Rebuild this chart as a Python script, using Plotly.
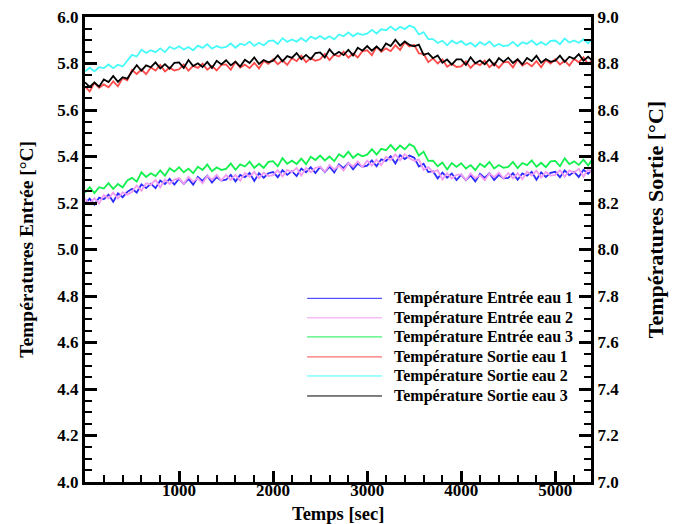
import plotly.graph_objects as go

TIME = list(range(0, 5401, 50))

ENTREE_1 = [
    5.197, 5.219, 5.193, 5.223, 5.216, 5.236, 5.205, 5.241, 5.225, 5.248,
    5.261, 5.245, 5.280, 5.264, 5.283, 5.264, 5.297, 5.282, 5.304, 5.279,
    5.305, 5.282, 5.304, 5.279, 5.312, 5.295, 5.317, 5.288, 5.311, 5.297,
    5.300, 5.321, 5.293, 5.321, 5.311, 5.329, 5.295, 5.328, 5.309, 5.328,
    5.333, 5.311, 5.341, 5.321, 5.337, 5.316, 5.348, 5.332, 5.354, 5.329,
    5.355, 5.333, 5.356, 5.331, 5.366, 5.350, 5.372, 5.345, 5.369, 5.356,
    5.361, 5.383, 5.358, 5.388, 5.381, 5.401, 5.370, 5.406, 5.389, 5.404,
    5.395, 5.357, 5.369, 5.333, 5.337, 5.306, 5.331, 5.309, 5.327, 5.299,
    5.322, 5.298, 5.319, 5.293, 5.325, 5.308, 5.328, 5.299, 5.321, 5.306,
    5.308, 5.328, 5.300, 5.327, 5.317, 5.334, 5.300, 5.332, 5.312, 5.330,
    5.334, 5.311, 5.340, 5.319, 5.334, 5.312, 5.343, 5.326, 5.347,
]
ENTREE_2 = [
    5.218, 5.197, 5.221, 5.198, 5.234, 5.220, 5.244, 5.219, 5.246, 5.236,
    5.248, 5.275, 5.253, 5.285, 5.279, 5.299, 5.267, 5.301, 5.282, 5.301,
    5.306, 5.283, 5.312, 5.292, 5.307, 5.285, 5.317, 5.300, 5.321, 5.296,
    5.321, 5.299, 5.321, 5.296, 5.329, 5.313, 5.334, 5.306, 5.330, 5.316,
    5.320, 5.341, 5.314, 5.342, 5.333, 5.351, 5.318, 5.351, 5.332, 5.351,
    5.356, 5.334, 5.364, 5.344, 5.361, 5.340, 5.372, 5.357, 5.379, 5.355,
    5.382, 5.361, 5.386, 5.363, 5.399, 5.385, 5.409, 5.384, 5.410, 5.392,
    5.382, 5.387, 5.342, 5.354, 5.333, 5.341, 5.301, 5.328, 5.305, 5.321,
    5.323, 5.299, 5.327, 5.306, 5.320, 5.298, 5.328, 5.311, 5.331, 5.305,
    5.329, 5.306, 5.328, 5.302, 5.335, 5.318, 5.339, 5.310, 5.333, 5.318,
    5.321, 5.341, 5.313, 5.340, 5.330, 5.347, 5.313, 5.345, 5.325,
]
ENTREE_3 = [
    5.244, 5.268, 5.243, 5.268, 5.262, 5.285, 5.261, 5.282, 5.267, 5.297,
    5.308, 5.292, 5.332, 5.312, 5.328, 5.316, 5.340, 5.317, 5.349, 5.335,
    5.354, 5.332, 5.348, 5.328, 5.356, 5.342, 5.366, 5.337, 5.353, 5.342,
    5.347, 5.370, 5.343, 5.366, 5.357, 5.378, 5.351, 5.369, 5.351, 5.377,
    5.380, 5.358, 5.393, 5.369, 5.382, 5.368, 5.391, 5.367, 5.399, 5.385,
    5.404, 5.383, 5.400, 5.380, 5.410, 5.397, 5.421, 5.394, 5.411, 5.401,
    5.408, 5.432, 5.408, 5.433, 5.427, 5.450, 5.426, 5.447, 5.431, 5.453,
    5.442, 5.404, 5.421, 5.381, 5.382, 5.358, 5.374, 5.344, 5.372, 5.355,
    5.371, 5.348, 5.363, 5.342, 5.369, 5.355, 5.377, 5.348, 5.363, 5.351,
    5.355, 5.377, 5.350, 5.372, 5.363, 5.383, 5.356, 5.373, 5.354, 5.379,
    5.381, 5.358, 5.392, 5.367, 5.379, 5.364, 5.386, 5.361, 5.392,
]
SORTIE_1 = [
    8.701, 8.680, 8.717, 8.695, 8.710, 8.698, 8.723, 8.702, 8.737, 8.728,
    8.772, 8.755, 8.774, 8.754, 8.783, 8.770, 8.794, 8.766, 8.782, 8.770,
    8.775, 8.796, 8.769, 8.790, 8.781, 8.800, 8.773, 8.789, 8.770, 8.794,
    8.796, 8.773, 8.807, 8.782, 8.795, 8.780, 8.803, 8.779, 8.811, 8.798,
    8.818, 8.797, 8.814, 8.794, 8.823, 8.810, 8.834, 8.806, 8.823, 8.812,
    8.818, 8.841, 8.815, 8.838, 8.830, 8.851, 8.825, 8.843, 8.826, 8.853,
    8.857, 8.836, 8.872, 8.850, 8.865, 8.853, 8.879, 8.858, 8.891, 8.873,
    8.880, 8.843, 8.842, 8.806, 8.822, 8.800, 8.818, 8.786, 8.799, 8.785,
    8.788, 8.809, 8.781, 8.802, 8.793, 8.812, 8.784, 8.801, 8.781, 8.805,
    8.807, 8.783, 8.817, 8.791, 8.803, 8.788, 8.810, 8.784, 8.815, 8.800,
    8.818, 8.796, 8.812, 8.791, 8.819, 8.805, 8.827, 8.798, 8.814,
]
SORTIE_2 = [
    8.766, 8.782, 8.766, 8.784, 8.780, 8.796, 8.780, 8.795, 8.787, 8.811,
    8.837, 8.830, 8.859, 8.845, 8.857, 8.849, 8.865, 8.849, 8.872, 8.862,
    8.874, 8.860, 8.871, 8.857, 8.877, 8.867, 8.883, 8.864, 8.875, 8.867,
    8.871, 8.886, 8.868, 8.885, 8.879, 8.894, 8.876, 8.889, 8.878, 8.896,
    8.899, 8.884, 8.909, 8.893, 8.903, 8.894, 8.910, 8.894, 8.916, 8.906,
    8.918, 8.905, 8.917, 8.904, 8.925, 8.917, 8.934, 8.917, 8.930, 8.923,
    8.928, 8.945, 8.929, 8.947, 8.943, 8.959, 8.943, 8.958, 8.948, 8.963,
    8.955, 8.925, 8.935, 8.905, 8.905, 8.888, 8.898, 8.878, 8.898, 8.886,
    8.896, 8.880, 8.889, 8.873, 8.892, 8.880, 8.895, 8.874, 8.884, 8.875,
    8.878, 8.893, 8.875, 8.891, 8.885, 8.899, 8.880, 8.892, 8.880, 8.897,
    8.899, 8.883, 8.907, 8.890, 8.899, 8.889, 8.904, 8.887, 8.909,
]
SORTIE_3 = [
    8.719, 8.699, 8.718, 8.700, 8.731, 8.720, 8.746, 8.721, 8.741, 8.735,
    8.766, 8.793, 8.769, 8.792, 8.784, 8.805, 8.779, 8.797, 8.778, 8.803,
    8.805, 8.781, 8.815, 8.789, 8.801, 8.785, 8.807, 8.781, 8.812, 8.796,
    8.814, 8.792, 8.808, 8.787, 8.816, 8.802, 8.826, 8.798, 8.815, 8.805,
    8.812, 8.835, 8.809, 8.832, 8.824, 8.845, 8.819, 8.837, 8.819, 8.845,
    8.848, 8.826, 8.861, 8.837, 8.850, 8.836, 8.859, 8.835, 8.868, 8.855,
    8.875, 8.855, 8.873, 8.855, 8.886, 8.875, 8.902, 8.877, 8.895, 8.880,
    8.874, 8.881, 8.837, 8.844, 8.823, 8.835, 8.803, 8.817, 8.795, 8.818,
    8.818, 8.794, 8.827, 8.801, 8.813, 8.797, 8.818, 8.793, 8.823, 8.807,
    8.825, 8.802, 8.818, 8.796, 8.824, 8.810, 8.833, 8.803, 8.819, 8.807,
    8.812, 8.834, 8.807, 8.829, 8.820, 8.840, 8.812, 8.829, 8.810,
]

SERIES_NAMES = [
    "Température Entrée eau 1",
    "Température Entrée eau 2",
    "Température Entrée eau 3",
    "Température Sortie eau 1",
    "Température Sortie eau 2",
    "Température Sortie eau 3",
]
SERIES_VALUES = [ENTREE_1, ENTREE_2, ENTREE_3, SORTIE_1, SORTIE_2, SORTIE_3]
SERIES_AXES = ["y", "y", "y", "y2", "y2", "y2"]
COLORS = ["#2b2bff", "#f29cf2", "#12f04e", "#ff4a4a", "#46fafa", "#000000"]

X_TICKS = [1000, 2000, 3000, 4000, 5000]

FONT = "Liberation Serif, Times New Roman, serif"

fig = go.Figure()
for name, vals, ax, col in zip(SERIES_NAMES, SERIES_VALUES, SERIES_AXES, COLORS):
    fig.add_trace(go.Scatter(
        x=TIME, y=vals, name=name, yaxis=ax, mode="lines",
        line=dict(color=col, width=1.8), showlegend=False,
    ))

# Manual legend (long line samples, bold text)
legend_rows_y = [0.395, 0.353, 0.312, 0.269, 0.228, 0.185]
shapes = []
annotations = []
for name, col, ly in zip(SERIES_NAMES, COLORS, legend_rows_y):
    shapes.append(dict(type="line", xref="paper", yref="paper",
                       x0=0.439, x1=0.587, y0=ly, y1=ly,
                       line=dict(color=col, width=1)))
    annotations.append(dict(xref="paper", yref="paper", x=0.607, y=ly,
                            xanchor="left", yanchor="middle", showarrow=False,
                            text=name,
                            font=dict(family=FONT, size=16, color="black", weight="bold")))

tickfont = dict(family=FONT, size=17, color="black", weight="bold")
titlefont = dict(family=FONT, size=19.5, color="black", weight="bold")

# axis titles
annotations.append(dict(xref="paper", yref="paper", x=0.5, y=-0.069,
                        xanchor="center", yanchor="middle", showarrow=False,
                        text="Temps [sec]",
                        font=dict(family=FONT, size=18.5, color="black", weight="bold")))
annotations.append(dict(xref="paper", yref="paper", x=-0.116, y=0.5,
                        xanchor="center", yanchor="middle", showarrow=False,
                        textangle=-90, text="Températures Entrée [°C]", font=titlefont))
annotations.append(dict(xref="paper", yref="paper", x=1.1265, y=0.563,
                        xanchor="center", yanchor="middle", showarrow=False,
                        textangle=-90, text="Températures Sortie [°C]",
                        font=dict(family=FONT, size=22, color="black", weight="bold")))

# the page has an 8px body margin, so the figure is made 8px smaller
fig.update_layout(
    width=672, height=516,
    margin=dict(l=77, r=89, t=9, b=42),
    plot_bgcolor="white", paper_bgcolor="white",
    shapes=shapes, annotations=annotations,
    xaxis=dict(
        range=[0, 5380], tickvals=X_TICKS, ticks="inside", ticklen=11, tickwidth=3,
        tickcolor="black", showline=True, linewidth=3, linecolor="black", mirror=True,
        showgrid=False, zeroline=False, tickfont=tickfont, automargin=False,
        ticklabeloverflow="allow", ticklabelstandoff=-9,
        minor=dict(dtick=200, tick0=0, ticks="inside", ticklen=7, tickwidth=2, tickcolor="black", showgrid=False),
    ),
    yaxis=dict(
        range=[4.0, 6.0], dtick=0.2, tick0=4.0, tickformat=".1f", ticks="inside",
        ticklen=12, tickwidth=3, tickcolor="black", showline=True, linewidth=3,
        linecolor="black", mirror=True, showgrid=False, zeroline=False, tickfont=tickfont,
        automargin=False, ticklabeloverflow="allow",
        minor=dict(dtick=0.05, ticks="inside", ticklen=7, tickwidth=2, tickcolor="black", showgrid=False),
    ),
    yaxis2=dict(
        range=[7.0, 9.0], dtick=0.2, tick0=7.0, tickformat=".1f", ticks="inside",
        ticklen=12, tickwidth=3, tickcolor="black", showline=True, linewidth=3,
        linecolor="black", overlaying="y", side="right", showgrid=False, zeroline=False,
        tickfont=tickfont, automargin=False, ticklabeloverflow="allow",
        minor=dict(dtick=0.05, ticks="inside", ticklen=7, tickwidth=2, tickcolor="black", showgrid=False),
    ),
)

fig.write_html("out.html")
